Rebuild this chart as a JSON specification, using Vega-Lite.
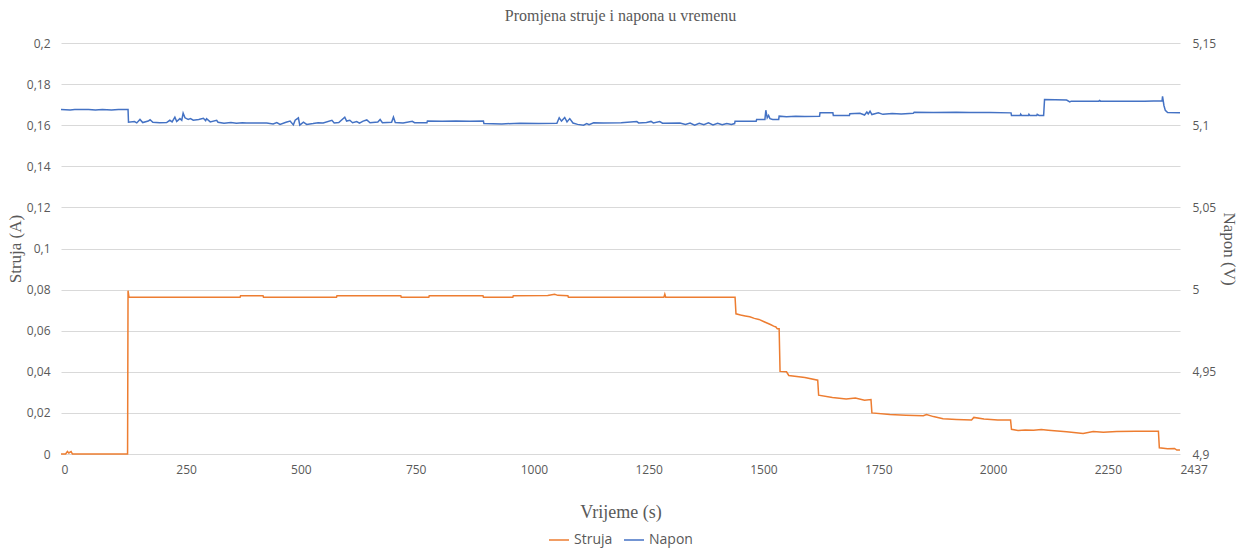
{
  "$schema": "https://vega.github.io/schema/vega-lite/v6.json",
  "width": 1119,
  "height": 411,
  "autosize": {"type": "none"},
  "padding": {"left": 61, "top": 43, "right": 66, "bottom": 98},
  "title": {"text": "Promjena struje i napona u vremenu", "font": "Liberation Serif", "fontSize": 16, "fontWeight": "normal", "color": "#595959", "offset": 13, "anchor": "middle"},
  "config": {
    "view": {"stroke": null},
    "axis": {"labelFont": "Open Sans", "labelFontSize": 12, "labelColor": "#595959", "titleFont": "Liberation Serif", "titleFontSize": 18, "titleFontWeight": "normal", "titleColor": "#595959", "domain": false, "ticks": false, "gridColor": "#d9d9d9", "gridWidth": 1},
    "legend": {"labelFont": "Open Sans", "labelFontSize": 14, "labelColor": "#595959", "layout": {"bottom": {"anchor": "middle"}}}
  },
  "datasets": {
    "struja": [
      {"t": 0, "I": 0}, {"t": 10, "I": 0}, {"t": 14, "I": 0.0012}, {"t": 17, "I": 0.0005}, {"t": 22, "I": 0.0012}, {"t": 25, "I": 0}, {"t": 145, "I": 0},
      {"t": 146, "I": 0.0795}, {"t": 148, "I": 0.0763}, {"t": 390, "I": 0.0763}, {"t": 391, "I": 0.077}, {"t": 440, "I": 0.077}, {"t": 441, "I": 0.0763},
      {"t": 600, "I": 0.0763}, {"t": 601, "I": 0.077}, {"t": 740, "I": 0.077}, {"t": 741, "I": 0.0763}, {"t": 801, "I": 0.0763}, {"t": 802, "I": 0.077},
      {"t": 919, "I": 0.077}, {"t": 920, "I": 0.0763}, {"t": 984, "I": 0.0763}, {"t": 985, "I": 0.077}, {"t": 1060, "I": 0.0771}, {"t": 1075, "I": 0.0777},
      {"t": 1082, "I": 0.0772}, {"t": 1104, "I": 0.077}, {"t": 1105, "I": 0.0763}, {"t": 1313, "I": 0.0763}, {"t": 1315, "I": 0.0778}, {"t": 1317, "I": 0.0763},
      {"t": 1468, "I": 0.0763}, {"t": 1470, "I": 0.0682}, {"t": 1480, "I": 0.0676}, {"t": 1490, "I": 0.0672}, {"t": 1500, "I": 0.0668}, {"t": 1510, "I": 0.066},
      {"t": 1520, "I": 0.0655}, {"t": 1530, "I": 0.0645}, {"t": 1545, "I": 0.063}, {"t": 1552, "I": 0.0622}, {"t": 1557, "I": 0.0618}, {"t": 1560, "I": 0.0609},
      {"t": 1564, "I": 0.0609}, {"t": 1566, "I": 0.0402}, {"t": 1580, "I": 0.04}, {"t": 1585, "I": 0.0382}, {"t": 1620, "I": 0.0372}, {"t": 1648, "I": 0.0359},
      {"t": 1650, "I": 0.0286}, {"t": 1680, "I": 0.0275}, {"t": 1710, "I": 0.0268}, {"t": 1730, "I": 0.0273}, {"t": 1750, "I": 0.0262}, {"t": 1764, "I": 0.0265},
      {"t": 1766, "I": 0.02}, {"t": 1805, "I": 0.0192}, {"t": 1840, "I": 0.0189}, {"t": 1878, "I": 0.0186}, {"t": 1885, "I": 0.0192}, {"t": 1900, "I": 0.0182},
      {"t": 1921, "I": 0.0172}, {"t": 1950, "I": 0.0168}, {"t": 1983, "I": 0.0165}, {"t": 1988, "I": 0.0178}, {"t": 2010, "I": 0.017}, {"t": 2040, "I": 0.0166},
      {"t": 2068, "I": 0.0165}, {"t": 2070, "I": 0.012}, {"t": 2085, "I": 0.0114}, {"t": 2100, "I": 0.0117}, {"t": 2118, "I": 0.0115}, {"t": 2135, "I": 0.0119},
      {"t": 2150, "I": 0.0116}, {"t": 2170, "I": 0.0112}, {"t": 2190, "I": 0.0108}, {"t": 2226, "I": 0.01}, {"t": 2248, "I": 0.011}, {"t": 2270, "I": 0.0106},
      {"t": 2299, "I": 0.0109}, {"t": 2340, "I": 0.0111}, {"t": 2390, "I": 0.0111}, {"t": 2392, "I": 0.003}, {"t": 2410, "I": 0.0025}, {"t": 2425, "I": 0.0027},
      {"t": 2430, "I": 0.0019}, {"t": 2437, "I": 0.002}
    ],
    "napon": [
      {"t": 0, "U": 5.1095}, {"t": 20, "U": 5.1093}, {"t": 30, "U": 5.1095}, {"t": 60, "U": 5.1095}, {"t": 75, "U": 5.1093}, {"t": 90, "U": 5.1095},
      {"t": 110, "U": 5.1093}, {"t": 125, "U": 5.1095}, {"t": 146, "U": 5.1095}, {"t": 147, "U": 5.1018}, {"t": 160, "U": 5.1022}, {"t": 165, "U": 5.1014},
      {"t": 172, "U": 5.1035}, {"t": 178, "U": 5.1016}, {"t": 190, "U": 5.1025}, {"t": 194, "U": 5.1033}, {"t": 200, "U": 5.1018}, {"t": 215, "U": 5.1015},
      {"t": 230, "U": 5.1016}, {"t": 237, "U": 5.103}, {"t": 242, "U": 5.102}, {"t": 248, "U": 5.1049}, {"t": 252, "U": 5.1022}, {"t": 259, "U": 5.104},
      {"t": 263, "U": 5.103}, {"t": 266, "U": 5.1073}, {"t": 270, "U": 5.1045}, {"t": 277, "U": 5.1035}, {"t": 282, "U": 5.104}, {"t": 288, "U": 5.103},
      {"t": 300, "U": 5.1035}, {"t": 310, "U": 5.1042}, {"t": 315, "U": 5.1028}, {"t": 317, "U": 5.104}, {"t": 325, "U": 5.102}, {"t": 339, "U": 5.103},
      {"t": 342, "U": 5.1018}, {"t": 355, "U": 5.1012}, {"t": 370, "U": 5.1017}, {"t": 382, "U": 5.1012}, {"t": 395, "U": 5.1015}, {"t": 404, "U": 5.1013},
      {"t": 448, "U": 5.1013}, {"t": 462, "U": 5.1008}, {"t": 470, "U": 5.1016}, {"t": 477, "U": 5.1005}, {"t": 490, "U": 5.1018}, {"t": 499, "U": 5.1025},
      {"t": 506, "U": 5.1002}, {"t": 510, "U": 5.103}, {"t": 517, "U": 5.1045}, {"t": 520, "U": 5.1}, {"t": 528, "U": 5.1018}, {"t": 535, "U": 5.1005},
      {"t": 549, "U": 5.101}, {"t": 560, "U": 5.1015}, {"t": 571, "U": 5.1014}, {"t": 590, "U": 5.103}, {"t": 595, "U": 5.1014}, {"t": 605, "U": 5.1016},
      {"t": 618, "U": 5.1049}, {"t": 622, "U": 5.1025}, {"t": 629, "U": 5.103}, {"t": 635, "U": 5.1015}, {"t": 644, "U": 5.1022}, {"t": 650, "U": 5.1012},
      {"t": 658, "U": 5.1025}, {"t": 666, "U": 5.1032}, {"t": 673, "U": 5.1015}, {"t": 690, "U": 5.102}, {"t": 695, "U": 5.1035}, {"t": 700, "U": 5.1015},
      {"t": 720, "U": 5.1018}, {"t": 724, "U": 5.1049}, {"t": 728, "U": 5.1016}, {"t": 745, "U": 5.1014}, {"t": 765, "U": 5.1024}, {"t": 770, "U": 5.1015},
      {"t": 797, "U": 5.1015}, {"t": 798, "U": 5.1026}, {"t": 830, "U": 5.1024}, {"t": 860, "U": 5.1026}, {"t": 890, "U": 5.1024}, {"t": 920, "U": 5.1025},
      {"t": 921, "U": 5.101}, {"t": 960, "U": 5.1008}, {"t": 1000, "U": 5.1012}, {"t": 1040, "U": 5.101}, {"t": 1080, "U": 5.1012}, {"t": 1085, "U": 5.1045},
      {"t": 1090, "U": 5.1025}, {"t": 1097, "U": 5.1047}, {"t": 1102, "U": 5.102}, {"t": 1108, "U": 5.104}, {"t": 1115, "U": 5.1013}, {"t": 1125, "U": 5.1005},
      {"t": 1138, "U": 5.1}, {"t": 1145, "U": 5.101}, {"t": 1150, "U": 5.1003}, {"t": 1160, "U": 5.1015}, {"t": 1181, "U": 5.1014}, {"t": 1220, "U": 5.1015},
      {"t": 1254, "U": 5.1022}, {"t": 1258, "U": 5.1014}, {"t": 1275, "U": 5.1016}, {"t": 1285, "U": 5.1023}, {"t": 1290, "U": 5.1014}, {"t": 1304, "U": 5.1022},
      {"t": 1310, "U": 5.1012}, {"t": 1348, "U": 5.1013}, {"t": 1360, "U": 5.1005}, {"t": 1370, "U": 5.1013}, {"t": 1380, "U": 5.1}, {"t": 1390, "U": 5.1012},
      {"t": 1400, "U": 5.1003}, {"t": 1410, "U": 5.1014}, {"t": 1420, "U": 5.1001}, {"t": 1430, "U": 5.1012}, {"t": 1440, "U": 5.1003}, {"t": 1450, "U": 5.101},
      {"t": 1460, "U": 5.1004}, {"t": 1467, "U": 5.101}, {"t": 1468, "U": 5.1024}, {"t": 1514, "U": 5.1024}, {"t": 1515, "U": 5.1035}, {"t": 1533, "U": 5.1035},
      {"t": 1535, "U": 5.1091}, {"t": 1538, "U": 5.1045}, {"t": 1541, "U": 5.106}, {"t": 1544, "U": 5.104}, {"t": 1550, "U": 5.1035}, {"t": 1563, "U": 5.1035},
      {"t": 1564, "U": 5.1055}, {"t": 1580, "U": 5.1052}, {"t": 1600, "U": 5.1055}, {"t": 1620, "U": 5.1053}, {"t": 1652, "U": 5.1055}, {"t": 1653, "U": 5.1075},
      {"t": 1681, "U": 5.1075}, {"t": 1682, "U": 5.1059}, {"t": 1717, "U": 5.1059}, {"t": 1718, "U": 5.107}, {"t": 1740, "U": 5.1072}, {"t": 1750, "U": 5.1062},
      {"t": 1755, "U": 5.108}, {"t": 1758, "U": 5.1068}, {"t": 1762, "U": 5.1085}, {"t": 1766, "U": 5.1065}, {"t": 1780, "U": 5.1075}, {"t": 1790, "U": 5.1066},
      {"t": 1810, "U": 5.1071}, {"t": 1830, "U": 5.1068}, {"t": 1856, "U": 5.1072}, {"t": 1858, "U": 5.1079}, {"t": 1900, "U": 5.1078}, {"t": 1950, "U": 5.1079},
      {"t": 1980, "U": 5.1077}, {"t": 2023, "U": 5.1077}, {"t": 2069, "U": 5.1075}, {"t": 2070, "U": 5.1059}, {"t": 2089, "U": 5.1059}, {"t": 2090, "U": 5.1067},
      {"t": 2092, "U": 5.1059}, {"t": 2107, "U": 5.1059}, {"t": 2108, "U": 5.1066}, {"t": 2110, "U": 5.1059}, {"t": 2125, "U": 5.1059}, {"t": 2126, "U": 5.1066},
      {"t": 2130, "U": 5.1059}, {"t": 2140, "U": 5.1059}, {"t": 2142, "U": 5.1156}, {"t": 2190, "U": 5.1153}, {"t": 2197, "U": 5.1142}, {"t": 2200, "U": 5.1146},
      {"t": 2260, "U": 5.1146}, {"t": 2262, "U": 5.115}, {"t": 2264, "U": 5.1146}, {"t": 2300, "U": 5.1146}, {"t": 2360, "U": 5.1146}, {"t": 2398, "U": 5.1148},
      {"t": 2399, "U": 5.1176}, {"t": 2402, "U": 5.112}, {"t": 2405, "U": 5.109}, {"t": 2410, "U": 5.1077}, {"t": 2437, "U": 5.1076}
    ]
  },
  "layer": [
    {
      "data": {"name": "struja"},
      "mark": {"type": "line", "strokeWidth": 1.5, "interpolate": "linear"},
      "encoding": {
        "x": {"field": "t", "type": "quantitative", "scale": {"domain": [0, 2437], "nice": false},
          "axis": {"values": [0, 250, 500, 750, 1000, 1250, 1500, 1750, 2000, 2250, 2437], "format": "d", "labelAlign": "left", "labelPadding": 10, "grid": false, "title": "Vrijeme (s)", "titlePadding": 28}},
        "y": {"field": "I", "type": "quantitative", "scale": {"domain": [0, 0.2], "nice": false},
          "axis": {"orient": "left", "values": [0, 0.02, 0.04, 0.06, 0.08, 0.1, 0.12, 0.14, 0.16, 0.18, 0.2], "labelExpr": "replace(format(datum.value, '~g'), '.', ',')", "labelPadding": 11, "grid": true, "title": "Struja (A)", "titleFontSize": 17, "titlePadding": 2}},
        "color": {"datum": "Struja", "scale": {"domain": ["Struja", "Napon"], "range": ["#ED7D31", "#4472C4"]},
          "legend": {"title": null, "orient": "bottom", "direction": "horizontal", "symbolType": "stroke", "symbolSize": 400, "symbolStrokeWidth": 1.5, "offset": 8, "columnPadding": 8}}
      }
    },
    {
      "data": {"name": "napon"},
      "mark": {"type": "line", "strokeWidth": 1.5, "interpolate": "linear"},
      "encoding": {
        "x": {"field": "t", "type": "quantitative"},
        "y": {"field": "U", "type": "quantitative", "scale": {"domain": [4.9, 5.15], "nice": false},
          "axis": {"orient": "right", "values": [4.9, 4.95, 5, 5.05, 5.1, 5.15], "labelExpr": "replace(format(datum.value, '~g'), '.', ',')", "labelPadding": 12, "grid": false, "title": "Napon (V)", "titleFontSize": 17, "titlePadding": 4}},
        "color": {"datum": "Napon"}
      }
    }
  ],
  "resolve": {"scale": {"y": "independent"}}
}
